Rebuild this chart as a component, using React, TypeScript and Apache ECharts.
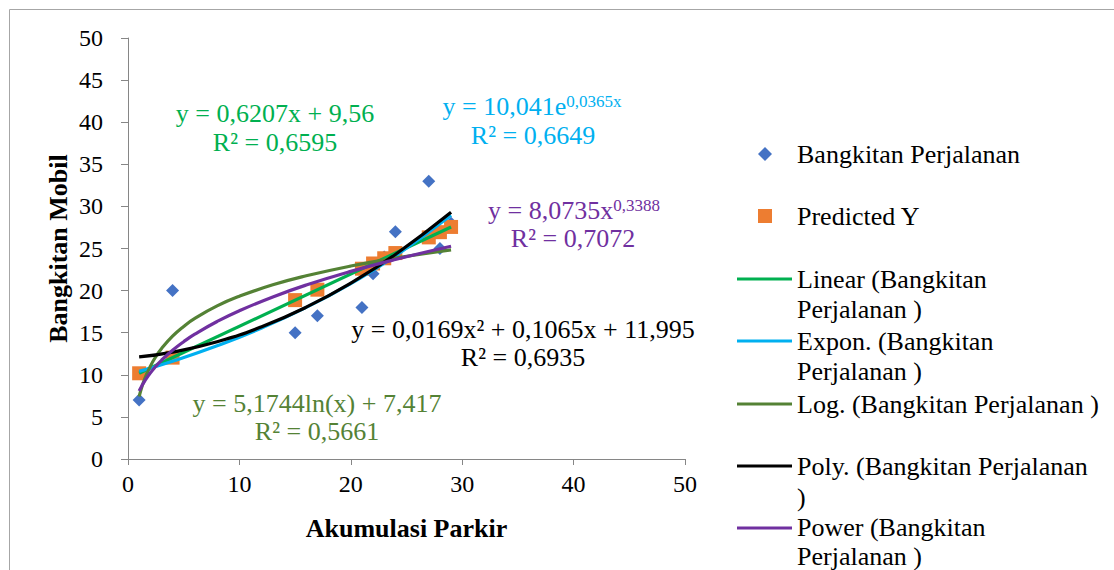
import React, { useEffect, useRef } from "react";
import * as echarts from "echarts";

// Observed data
const parkir = [1, 4, 15, 17, 21, 22, 23, 24, 27, 28, 29];
const bangkitan = [7, 20, 15, 17, 18, 22, 24, 27, 33, 25, 28];
const predictedY = [10.18, 12.04, 18.87, 20.11, 22.6, 23.22, 23.84, 24.46, 26.32, 26.94, 27.56];

// Trendline sample points (x, y)
const linearX = [1, 29];
const linearY = [10.18, 27.56];
const exponX = [1, 4, 8, 12, 16, 20, 24, 29];
const exponY = [10.41, 11.62, 13.45, 15.56, 18.01, 20.84, 24.11, 28.94];
const logX = [1, 1.25, 1.5, 2, 2.5, 3, 4, 5, 6, 8, 10, 13, 16, 20, 24, 29];
const logY = [7.42, 8.57, 9.52, 11.0, 12.16, 13.1, 14.59, 15.75, 16.69, 18.18, 19.33, 20.69, 21.76, 22.92, 23.86, 24.84];
const polyX = [1, 4, 8, 12, 16, 20, 24, 29];
const polyY = [12.12, 12.69, 13.93, 15.71, 18.03, 20.89, 24.29, 29.3];
const powerX = [1, 1.25, 1.5, 2, 2.5, 3, 4, 5, 6, 8, 10, 13, 16, 20, 24, 29];
const powerY = [8.07, 8.71, 9.26, 10.21, 11.01, 11.72, 12.91, 13.93, 14.82, 16.33, 17.61, 19.25, 20.66, 22.28, 23.7, 25.27];

const xTicks = [0, 10, 20, 30, 40, 50];
const yTicks = [0, 5, 10, 15, 20, 25, 30, 35, 40, 45, 50];

const legendNames = [
  "Bangkitan Perjalanan",
  "Predicted Y",
  "Linear (Bangkitan Perjalanan )",
  "Expon. (Bangkitan Perjalanan )",
  "Log. (Bangkitan Perjalanan )",
  "Poly. (Bangkitan Perjalanan )",
  "Power (Bangkitan Perjalanan )",
];

const FONT = '"Liberation Serif", "Times New Roman", serif';
const C_BLUE = "#4472C4";
const C_ORANGE = "#ED7D31";
const C_LINEAR = "#00B050";
const C_EXPON = "#00B0F0";
const C_LOG = "#548235";
const C_POLY = "#000000";
const C_POWER = "#7030A0";
const FS = 26;

const zip = (a: number[], b: number[]) => a.map((v, i) => [v, b[i]]);

function txt(text: string, x: number, y: number, fill: string, align = "center", size = FS) {
  return {
    type: "text",
    x,
    y,
    silent: true,
    style: {
      text,
      fill,
      font: `${size}px ${FONT}`,
      align,
      verticalAlign: "middle",
      lineHeight: 28,
    },
  };
}

function supTxt(base: string, sup: string, x: number, y: number, fill: string) {
  return {
    type: "text",
    x,
    y,
    silent: true,
    style: {
      text: `{b|${base}}{s|${sup}}`,
      fill,
      align: "center",
      verticalAlign: "middle",
      rich: {
        b: { fontSize: FS, fontFamily: FONT, fill, verticalAlign: "bottom", lineHeight: 26 },
        s: { fontSize: 17, fontFamily: FONT, fill, verticalAlign: "top", lineHeight: 26 },
      },
    },
  };
}

export default function App() {
  const ref = useRef<HTMLDivElement>(null);
  useEffect(() => {
    document.body.style.margin = "0";
    if (!ref.current) return;
    const chart = echarts.init(ref.current, undefined, { renderer: "svg" });

    const lineSeries = (name: string, xs: number[], ys: number[], color: string) => ({
      name,
      type: "line",
      data: zip(xs, ys),
      smooth: true,
      showSymbol: false,
      symbol: "none",
      lineStyle: { color, width: 3.2 },
      itemStyle: { color },
      z: 3,
    });

    const legendLines: [string, number][] = [
      [C_LINEAR, 279],
      [C_EXPON, 341],
      [C_LOG, 404],
      [C_POLY, 466],
      [C_POWER, 528],
    ];

    const graphic: any[] = [
      {
        type: "rect",
        silent: true,
        shape: { x: 9.5, y: 9.5, width: 1120, height: 600 },
        style: { fill: "none", stroke: "#A6A6A6", lineWidth: 1 },
        z: -10,
      },
      // equations
      txt("y = 0,6207x + 9,56", 275, 113, C_LINEAR),
      txt("R² = 0,6595", 275, 142, C_LINEAR),
      supTxt("y = 10,041e", "0,0365x", 532, 106, C_EXPON),
      txt("R² = 0,6649", 533, 135, C_EXPON),
      supTxt("y = 8,0735x", "0,3388", 574, 210, C_POWER),
      txt("R² = 0,7072", 573, 238, C_POWER),
      txt("y = 0,0169x² + 0,1065x + 11,995", 523, 329, C_POLY),
      txt("R² = 0,6935", 523, 357, C_POLY),
      txt("y = 5,1744ln(x) + 7,417", 317, 403, C_LOG),
      txt("R² = 0,5661", 317, 431, C_LOG),
      // legend
      {
        type: "polygon",
        silent: true,
        shape: { points: [[765, 147], [772, 154], [765, 161], [758, 154]] },
        style: { fill: C_BLUE },
      },
      {
        type: "rect",
        silent: true,
        shape: { x: 758, y: 209, width: 14, height: 14 },
        style: { fill: C_ORANGE },
      },
      txt(legendNames[0], 797, 154, "#000", "left"),
      txt(legendNames[1], 797, 216, "#000", "left"),
      txt("Linear (Bangkitan", 797, 279, "#000", "left"),
      txt("Perjalanan )", 797, 309, "#000", "left"),
      txt("Expon. (Bangkitan", 797, 341, "#000", "left"),
      txt("Perjalanan )", 797, 371, "#000", "left"),
      txt("Log. (Bangkitan Perjalanan )", 797, 404, "#000", "left"),
      txt("Poly. (Bangkitan Perjalanan", 797, 466, "#000", "left"),
      txt(")", 797, 497, "#000", "left"),
      txt("Power (Bangkitan", 797, 527, "#000", "left"),
      txt("Perjalanan )", 797, 556, "#000", "left"),
    ];
    legendLines.forEach(([c, y]) => {
      graphic.push({
        type: "line",
        silent: true,
        shape: { x1: 737, y1: y, x2: 792, y2: y },
        style: { stroke: c, lineWidth: 3 },
      });
    });

    chart.setOption({
      animation: false,
      backgroundColor: "#fff",
      textStyle: { fontFamily: FONT },
      grid: { left: 128, right: 429, top: 38, bottom: 111, containLabel: false },
      xAxis: {
        type: "value",
        min: xTicks[0],
        max: xTicks[xTicks.length - 1],
        interval: 10,
        name: "Akumulasi Parkir",
        nameLocation: "middle",
        nameGap: 56,
        nameTextStyle: { fontFamily: FONT, fontSize: 26, fontWeight: "bold", color: "#000" },
        axisLine: { show: true, onZero: false, lineStyle: { color: "#868686", width: 1 } },
        axisTick: { show: true, length: 6, lineStyle: { color: "#868686" } },
        axisLabel: { fontFamily: FONT, fontSize: 24, color: "#000", margin: 13 },
        splitLine: { show: false },
      },
      yAxis: {
        type: "value",
        min: yTicks[0],
        max: yTicks[yTicks.length - 1],
        interval: 5,
        name: "Bangkitan Mobil",
        nameLocation: "middle",
        nameGap: 57,
        nameTextStyle: { fontFamily: FONT, fontSize: 26, fontWeight: "bold", color: "#000" },
        axisLine: { show: true, onZero: false, lineStyle: { color: "#868686", width: 1 } },
        axisTick: { show: true, length: 7, lineStyle: { color: "#868686" } },
        axisLabel: { fontFamily: FONT, fontSize: 24, color: "#000", margin: 25 },
        splitLine: { show: false },
      },
      series: [
        {
          name: legendNames[0],
          type: "scatter",
          data: zip(parkir, bangkitan),
          symbol: "diamond",
          symbolSize: 13,
          itemStyle: { color: C_BLUE, opacity: 1 },
          z: 2,
        },
        {
          name: legendNames[1],
          type: "scatter",
          data: zip(parkir, predictedY),
          symbol: "rect",
          symbolSize: 14,
          itemStyle: { color: C_ORANGE, opacity: 1 },
          z: 2,
        },
        lineSeries(legendNames[2], linearX, linearY, C_LINEAR),
        lineSeries(legendNames[3], exponX, exponY, C_EXPON),
        lineSeries(legendNames[4], logX, logY, C_LOG),
        lineSeries(legendNames[5], polyX, polyY, C_POLY),
        lineSeries(legendNames[6], powerX, powerY, C_POWER),
      ],
      graphic,
    });
    return () => chart.dispose();
  }, []);
  return <div ref={ref} style={{ width: 1114, height: 570 }} />;
}
